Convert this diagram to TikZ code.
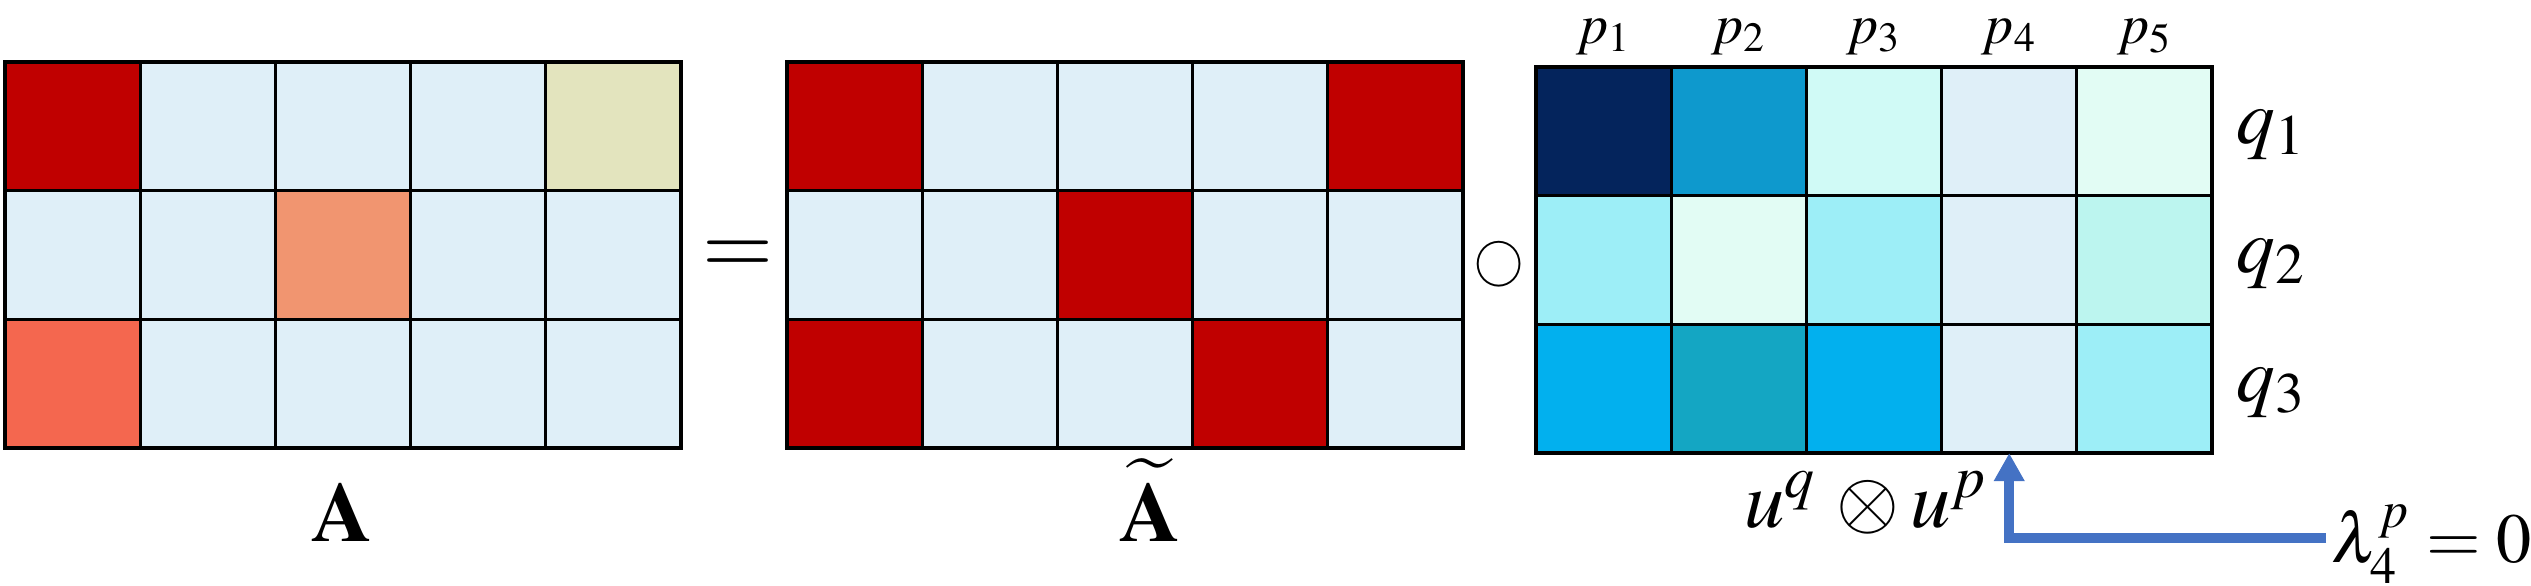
\documentclass[tikz,border=0pt]{standalone}
\usepackage{mathptmx}
\usetikzlibrary{arrows.meta}
\definecolor{cellred}{HTML}{C00000}
\definecolor{celllight}{HTML}{DFEFF8}
\definecolor{cellolive}{HTML}{E3E4BE}
\definecolor{cellsalmon}{HTML}{F19570}
\definecolor{cellcoral}{HTML}{F4674F}
\definecolor{wnavy}{HTML}{04245C}
\definecolor{wblue}{HTML}{0E99CD}
\definecolor{wsky}{HTML}{02B0EE}
\definecolor{wteal}{HTML}{14A6C3}
\definecolor{wcyan}{HTML}{9DEEF7}
\definecolor{wmint}{HTML}{BCF5EF}
\definecolor{wice}{HTML}{D0FAF6}
\definecolor{wpale}{HTML}{E2FCF4}
\definecolor{arrowblue}{HTML}{4472C4}
\begin{document}
\begin{tikzpicture}[
  cell/.style={draw, line width=0.85pt, minimum width=1.352cm, minimum height=1.287cm, inner sep=0pt, outer sep=0pt},
  frame/.style={line width=1.2pt},
  big/.style={font=\fontsize{24}{28}\selectfont},
  arr/.style={draw=arrowblue, line width=2.8pt, -{Triangle[width=0.29cm,length=0.28cm]}}
]
\useasboundingbox (0,0) rectangle (25.31,-5.85);
\foreach \i/\row in {1/{cellred,celllight,celllight,celllight,cellolive},
                     2/{celllight,celllight,cellsalmon,celllight,celllight},
                     3/{cellcoral,celllight,celllight,celllight,celllight}}
  \foreach \c [count=\j] in \row
    \node[cell, fill=\c] (a-\i-\j) at ({0.05+(\j-0.5)*1.352},{-0.62-(\i-0.5)*1.287}) {};
\foreach \i/\row in {1/{cellred,celllight,celllight,celllight,cellred},
                     2/{celllight,celllight,cellred,celllight,celllight},
                     3/{cellred,celllight,celllight,cellred,celllight}}
  \foreach \c [count=\j] in \row
    \node[cell, fill=\c] (at-\i-\j) at ({7.87+(\j-0.5)*1.352},{-0.62-(\i-0.5)*1.287}) {};
\foreach \i/\row in {1/{wnavy,wblue,wice,celllight,wpale},
                     2/{wcyan,wpale,wcyan,celllight,wmint},
                     3/{wsky,wteal,wsky,celllight,wcyan}}
  \foreach \c [count=\j] in \row
    \node[cell, fill=\c] (u-\i-\j) at ({15.36+(\j-0.5)*1.352},{-0.67-(\i-0.5)*1.287}) {};
\draw[frame] (a-1-1.north west) rectangle (a-3-5.south east);
\draw[frame] (at-1-1.north west) rectangle (at-3-5.south east);
\draw[frame] (u-1-1.north west) rectangle (u-3-5.south east);
\node[big, anchor=base] (labA) at (3.42,-5.41) {$\mathbf{A}$};
\node[big, anchor=base] (labAt) at (11.50,-5.41) {$\widetilde{\mathbf{A}}$};
\node[font=\fontsize{26}{30}\selectfont] (eq) at (7.38,-2.58) {$=$};
\node[font=\fontsize{14}{16}\selectfont] (had) at (14.99,-2.64) {$\bigcirc$};
\foreach \j in {1,...,5}
  \node[font=\fontsize{16}{18}\selectfont, anchor=base] (p\j) at ({15.36+(\j-0.5)*1.352},-0.43) {$p_{\j}$};
\foreach \i/\y in {1/-1.43,2/-2.72,3/-4.01}
  \node[font=\fontsize{22}{26}\selectfont, anchor=base west] (q\i) at (22.24,\y) {$q_{\i}$};
\node[font=\fontsize{23}{27}\selectfont, anchor=base] (uqp) at (18.66,-5.27) {$u^{q}\,\otimes u^{p}$};
\node[font=\fontsize{20}{24}\selectfont, anchor=base west, inner sep=0pt] (lam) at (23.31,-5.62) {$\lambda_{4}^{p}=0$};
\coordinate (lamL) at ([shift={(-0.05,0.24)}]lam.base west);
\draw[arr] (lamL) -| (u-3-4.south);
\end{tikzpicture}
\end{document}
